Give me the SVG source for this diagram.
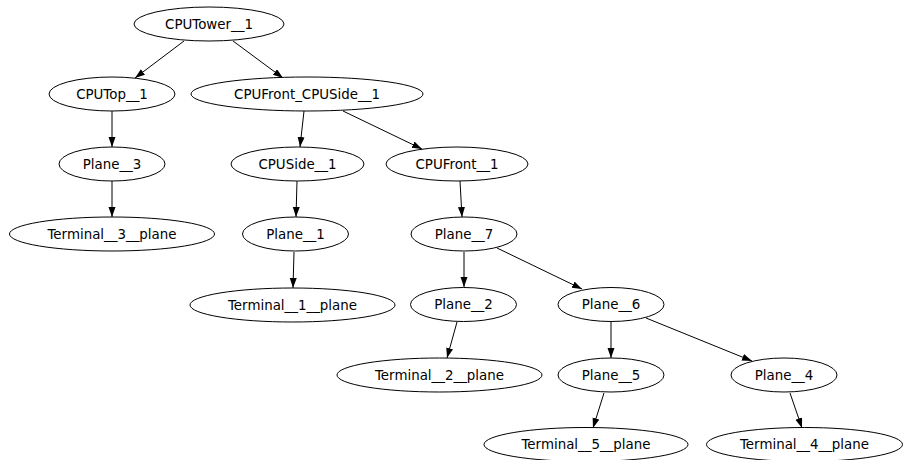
<svg xmlns="http://www.w3.org/2000/svg" width="903" height="460" viewBox="0 0 903 460">
<style>
.n ellipse{fill:#fff;stroke:#000;stroke-width:1}
.n text{font-family:"DejaVu Sans",sans-serif;font-size:13.4px;text-anchor:middle;dominant-baseline:central;fill:#000}
.e line{stroke:#000;stroke-width:1;marker-end:url(#a)}
</style>
<defs>
<marker id="a" markerUnits="userSpaceOnUse" markerWidth="11" markerHeight="8" refX="10" refY="3.5" orient="auto">
<path d="M0,0 L10,3.5 L0,7 Z" fill="#000"/>
</marker>
</defs>
<rect width="903" height="460" fill="#fff"/>
<g id="edges" class="e">
<line x1="184" y1="41" x2="135" y2="78"/>
<line x1="233" y1="41" x2="283" y2="78"/>
<line x1="112" y1="111" x2="112" y2="147"/>
<line x1="304" y1="111" x2="300" y2="147"/>
<line x1="343" y1="111" x2="422" y2="149"/>
<line x1="112" y1="181" x2="112" y2="217"/>
<line x1="297" y1="181" x2="296" y2="217"/>
<line x1="460" y1="181" x2="462" y2="217"/>
<line x1="294" y1="252" x2="293" y2="288"/>
<line x1="464" y1="252" x2="464" y2="287"/>
<line x1="497" y1="248" x2="582" y2="289"/>
<line x1="457" y1="322" x2="447" y2="358"/>
<line x1="611" y1="322" x2="611" y2="358"/>
<line x1="646" y1="318" x2="752" y2="361"/>
<line x1="604" y1="393" x2="593" y2="428"/>
<line x1="790" y1="393" x2="802" y2="428"/>
</g>
<g id="CPUTower__1" class="n"><ellipse cx="209" cy="24" rx="75" ry="17"/><text x="209" y="24">CPUTower__1</text></g>
<g id="CPUTop__1" class="n"><ellipse cx="112" cy="94" rx="63" ry="17"/><text x="112" y="94">CPUTop__1</text></g>
<g id="CPUFront_CPUSide__1" class="n"><ellipse cx="307" cy="94" rx="116" ry="17"/><text x="307" y="94">CPUFront_CPUSide__1</text></g>
<g id="Plane__3" class="n"><ellipse cx="112" cy="164" rx="53" ry="17"/><text x="112" y="164">Plane__3</text></g>
<g id="CPUSide__1" class="n"><ellipse cx="297.5" cy="164" rx="66.5" ry="17"/><text x="297.5" y="164">CPUSide__1</text></g>
<g id="CPUFront__1" class="n"><ellipse cx="457" cy="164" rx="71" ry="17"/><text x="457" y="164">CPUFront__1</text></g>
<g id="Terminal__3__plane" class="n"><ellipse cx="112" cy="234" rx="102.5" ry="17"/><text x="112" y="234">Terminal__3__plane</text></g>
<g id="Plane__1" class="n"><ellipse cx="295.5" cy="234" rx="53" ry="17"/><text x="295.5" y="234">Plane__1</text></g>
<g id="Plane__7" class="n"><ellipse cx="464" cy="234" rx="53" ry="17"/><text x="464" y="234">Plane__7</text></g>
<g id="Terminal__1__plane" class="n"><ellipse cx="292.5" cy="305" rx="102.5" ry="17"/><text x="292.5" y="305">Terminal__1__plane</text></g>
<g id="Plane__2" class="n"><ellipse cx="463.5" cy="304.5" rx="53" ry="17"/><text x="463.5" y="304.5">Plane__2</text></g>
<g id="Plane__6" class="n"><ellipse cx="611" cy="304.5" rx="53" ry="17"/><text x="611" y="304.5">Plane__6</text></g>
<g id="Terminal__2__plane" class="n"><ellipse cx="439.5" cy="375" rx="102.5" ry="17"/><text x="439.5" y="375">Terminal__2__plane</text></g>
<g id="Plane__5" class="n"><ellipse cx="611" cy="375" rx="53" ry="17"/><text x="611" y="375">Plane__5</text></g>
<g id="Plane__4" class="n"><ellipse cx="784" cy="375" rx="53" ry="17"/><text x="784" y="375">Plane__4</text></g>
<g id="Terminal__5__plane" class="n"><ellipse cx="586" cy="444.5" rx="102" ry="17"/><text x="586" y="444.5">Terminal__5__plane</text></g>
<g id="Terminal__4__plane" class="n"><ellipse cx="804.5" cy="444.5" rx="98" ry="17"/><text x="804.5" y="444.5">Terminal__4__plane</text></g>
</svg>
